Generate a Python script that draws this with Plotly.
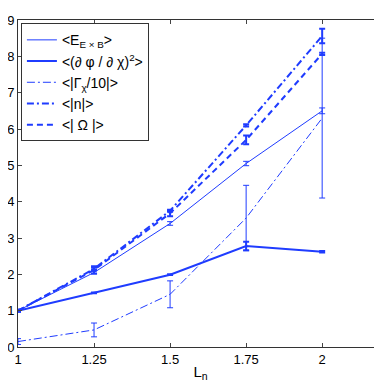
import plotly.graph_objects as go

# L_n values
ln = [1.0, 1.25, 1.5, 1.75, 2.0]

# <E_ExB>
e_exb = [1.0, 2.05, 3.4, 5.05, 6.5]
e_exb_err = [0.02, 0.04, 0.05, 0.06, 0.08]

# <(dphi/dchi)^2>
dphi = [1.0, 1.49, 1.99, 2.78, 2.62]
dphi_err = [0.02, 0.01, 0.01, 0.12, 0.02]

# <|Gamma_chi/10|>
gamma = [0.15, 0.47, 1.45, 3.55, 6.3]
gamma_err = [0.08, 0.19, 0.37, 0.9, 2.2]

# <|n|>
dens = [1.0, 2.15, 3.75, 6.1, 8.56]
dens_err = [0.02, 0.03, 0.03, 0.03, 0.2]

# <|Omega|>
omega = [1.0, 2.12, 3.68, 5.7, 8.07]
omega_err = [0.03, 0.1, 0.08, 0.12, 0.03]

blue = "#1f3cff"

series = [
    ("&lt;E<sub>E \u00d7 B</sub>&gt;", e_exb, e_exb_err, 1, "solid"),
    ("&lt;(\u2202 \u03c6 / \u2202 \u03c7)<sup>2</sup>&gt;", dphi, dphi_err, 2, "solid"),
    ("&lt;|\u0393<sub>\u03c7</sub>/10|&gt;", gamma, gamma_err, 1, "8px,3px,2px,3px"),
    ("&lt;|n|&gt;", dens, dens_err, 2, "7px,3px,2px,3px"),
    ("&lt;| \u03a9 |&gt;", omega, omega_err, 2, "6px,4px"),
]

fig = go.Figure()
for name, y, err, w, dash in series:
    fig.add_trace(go.Scatter(
        x=ln, y=y, name=name, mode="lines",
        line=dict(color=blue, width=w, dash=dash),
        error_y=dict(type="data", array=err, visible=True,
                     color=blue, thickness=1 if w < 2 else 2, width=3),
    ))

fig.update_layout(
    width=382, height=382,
    margin=dict(l=10, r=7, t=12, b=43),
    paper_bgcolor="white", plot_bgcolor="white",
    font=dict(family="Liberation Sans, Arial", size=13, color="black"),
    showlegend=True,
    legend=dict(x=0.008, y=0.99, xanchor="left", yanchor="top",
                bgcolor="white", bordercolor="#333", borderwidth=1,
                font=dict(size=14), itemwidth=30, tracegroupgap=0),
)
fig.update_xaxes(range=[1, 2.2], tickvals=[1, 1.25, 1.5, 1.75, 2],
                 ticktext=["1", "1.25", "1.5", "1.75", "2"],
                 ticks="inside", ticklen=4, mirror="ticks", showline=True,
                 linecolor="#333", linewidth=1, showgrid=False, zeroline=False,
                 title=dict(text="L<sub>n</sub>", standoff=0, font=dict(size=15)),
                 automargin=False)
fig.update_yaxes(range=[0, 9], dtick=1, ticks="inside", ticklen=4, mirror="ticks",
                 showline=True, linecolor="#333", linewidth=1, showgrid=False,
                 zeroline=False, automargin=False)

fig.write_html("out.html")
